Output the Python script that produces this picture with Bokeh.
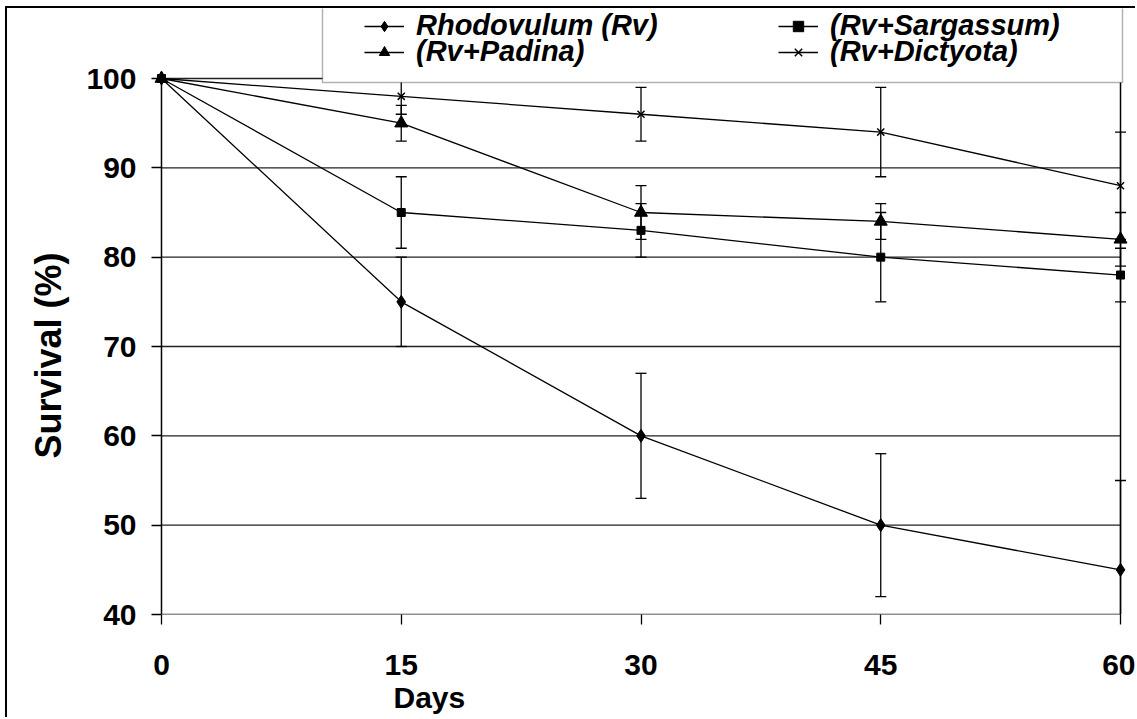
from bokeh.plotting import figure
from bokeh.models import Range1d, FixedTicker, Legend, LegendItem, BoxAnnotation, Title
from bokeh.embed import file_html
from bokeh.resources import INLINE

# ---- data ----
days = [0, 15, 30, 45, 60]
y_ticks = [40, 50, 60, 70, 80, 90, 100]
series_names = ["Rhodovulum (Rv)", "(Rv+Sargassum)", "(Rv+Padina)", "(Rv+Dictyota)"]
rhodovulum = [100, 75, 60, 50, 45]
rhodovulum_err = [0, 5, 7, 8, 10]
sargassum = [100, 85, 83, 80, 78]
sargassum_err = [0, 4, 3, 5, 3]
padina = [100, 95, 85, 84, 82]
padina_err = [0, 2, 3, 2, 3]
dictyota = [100, 98, 96, 94, 88]
dictyota_err = [0, 2, 3, 5, 6]

values = [rhodovulum, sargassum, padina, dictyota]
errors = [rhodovulum_err, sargassum_err, padina_err, dictyota_err]
markers = ["diamond", "square", "triangle", "x"]
marker_sizes = [13, 8, 13, 10]

FONT = "Liberation Sans"

p = figure(width=1130, height=711, output_backend="svg", toolbar_location=None,
           x_range=Range1d(-0.5, 60.5), y_range=Range1d(40, 107.836),
           min_border_left=146, min_border_right=9, min_border_top=0, min_border_bottom=105)
p.styles = {"margin-left": "5px", "margin-top": "6px",
            "border-left": "2px solid black", "border-top": "2px solid black"}
p.grid.visible = False
p.outline_line_color = None
p.background_fill_color = "white"
p.border_fill_color = "white"

# axes
p.xaxis.ticker = FixedTicker(ticks=days)
p.yaxis.ticker = FixedTicker(ticks=y_ticks)
for ax in (p.xaxis, p.yaxis):
    ax.axis_line_color = None
    ax.minor_tick_line_color = None
    ax.major_tick_line_color = "black"
    ax.major_tick_line_width = 1.3
    ax.major_label_text_font = FONT
    ax.major_label_text_font_style = "bold"
    ax.major_label_text_font_size = "30px"
    ax.major_label_text_color = "black"
p.xaxis.major_tick_out = 10
p.xaxis.major_tick_in = 0
p.yaxis.major_tick_out = 2
p.yaxis.major_tick_in = 8
p.xaxis.major_label_standoff = 30
p.yaxis.major_label_standoff = 15

survival_title = Title(text="Survival (%)", align="left", offset=156, text_font=FONT,
                       text_font_style="bold", text_font_size="36px", text_color="black",
                       standoff=30)
p.add_layout(survival_title, "left")

days_title = Title(text="Days", align="left", offset=240, text_font=FONT,
                   text_font_style="bold", text_font_size="30px", text_color="black",
                   standoff=3)
p.add_layout(days_title, "below")

# gridlines / frame lines
n = len(y_ticks)
p.segment(x0=[days[0]] * n, x1=[days[-1]] * n, y0=y_ticks, y1=y_ticks,
          line_color="#222222", line_width=1.3)
p.segment(x0=[days[0], days[-1]], x1=[days[0], days[-1]],
          y0=[y_ticks[0]] * 2, y1=[y_ticks[-1]] * 2, line_color="black", line_width=1.5)

# series
legend_items = []
for name, vals, errs, mk, ms in zip(series_names, values, errors, markers, marker_sizes):
    lr = p.line(days, vals, line_color="black", line_width=1.3)
    xs = [d for d, e in zip(days, errs) if e > 0]
    lo = [v - e for v, e in zip(vals, errs) if e > 0]
    hi = [v + e for v, e in zip(vals, errs) if e > 0]
    p.segment(x0=xs, x1=xs, y0=lo, y1=hi, line_color="black", line_width=1.3)
    p.scatter(xs, lo, marker="dash", size=11, line_color="black", line_width=1.3)
    p.scatter(xs, hi, marker="dash", size=11, line_color="black", line_width=1.3)
    if mk == "x":
        sr = p.scatter(days, vals, marker=mk, size=ms, line_color="black", line_width=1.5)
    else:
        sr = p.scatter(days, vals, marker=mk, size=ms, line_color="black",
                       fill_color="black")
    legend_items.append(LegendItem(label=name, renderers=[lr, sr]))

# legend box (canvas coordinates)
box = BoxAnnotation(left=313, right=1113, top=-10, bottom=72,
                    left_units="canvas", right_units="canvas",
                    top_units="canvas", bottom_units="canvas",
                    fill_color="white", fill_alpha=1.0, line_color="black", line_width=1.5)
p.add_layout(box)


def make_legend(items, vy):
    return Legend(items=items, orientation="horizontal", location=(211, vy),
                  border_line_color=None, background_fill_alpha=0, padding=0, margin=0,
                  spacing=0, glyph_width=40, glyph_height=26, label_standoff=12,
                  label_width=362, label_height=26,
                  label_text_font=FONT, label_text_font_style="bold italic",
                  label_text_font_size="29px", label_text_color="black")


# frame bottom is at canvas y=606; vy = distance of legend row bottom above it
p.add_layout(make_legend([legend_items[0], legend_items[1]], 572))
p.add_layout(make_legend([legend_items[2], legend_items[3]], 546))

open("out.html", "w").write(file_html(p, INLINE))
